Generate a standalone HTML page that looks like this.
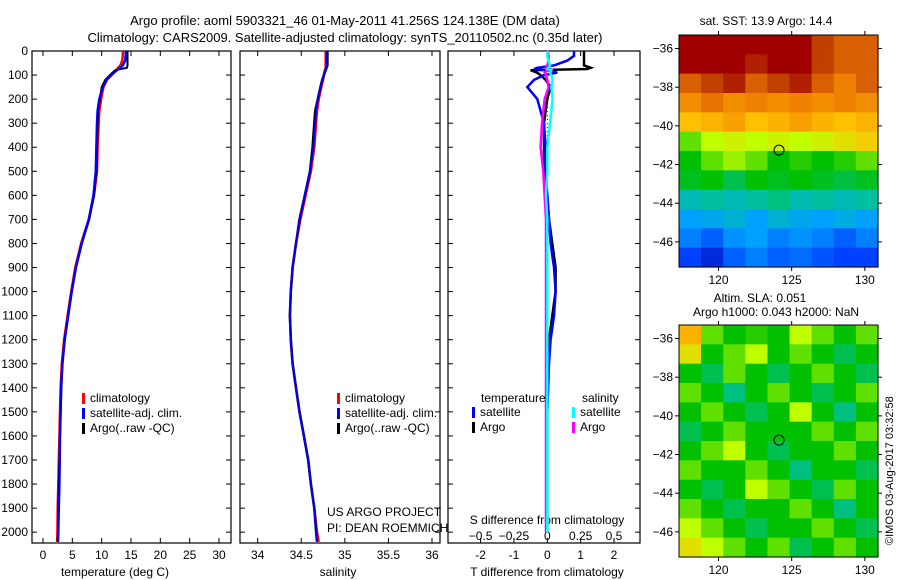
<!DOCTYPE html>
<html><head><meta charset="utf-8"><style>
body{margin:0;background:#fff;}
svg{display:block;font-family:"Liberation Sans",sans-serif;}
text{font-size:12px;fill:#000;}
</style></head><body>
<svg id="c" width="900" height="580" xmlns="http://www.w3.org/2000/svg">
<text x="345" y="25" text-anchor="middle" style="font-size:13px">Argo profile: aoml 5903321_46 01-May-2011 41.256S 124.138E (DM data)</text>
<text x="345" y="42" text-anchor="middle" style="font-size:13px">Climatology: CARS2009. Satellite-adjusted climatology: synTS_20110502.nc (0.35d later)</text>
<text x="115" y="576" text-anchor="middle">temperature (deg C)</text>
<text x="338" y="576" text-anchor="middle">salinity</text>
<text x="547" y="576" text-anchor="middle">T difference from climatology</text>
<text x="547" y="524" text-anchor="middle">S difference from climatology</text>
<text x="327" y="516">US ARGO PROJECT</text>
<text x="327" y="532">PI: DEAN ROEMMICH</text>
<text x="766" y="25" text-anchor="middle">sat. SST: 13.9 Argo: 14.4</text>
<text x="760" y="302" text-anchor="middle">Altim. SLA: 0.051</text>
<text x="776" y="316" text-anchor="middle">Argo h1000: 0.043 h2000: NaN</text>
<text transform="translate(893,545) rotate(-90)" style="font-size:11px">©IMOS 03-Aug-2017 03:32:58</text>
</svg>
<script>
// ---- data ----
const depths = [0,20,40,60,70,80,100,120,150,200,250,300,400,500,600,700,800,900,1000,1100,1200,1300,1400,1500,1600,1700,1800,1900,2000,2040];
const tempArgo = [14.4,14.4,14.4,14.4,14.3,12.3,11.4,10.6,10.0,9.7,9.4,9.3,9.2,9.1,8.7,7.9,6.6,5.6,4.9,4.3,3.7,3.3,3.1,3.0,2.9,2.8,2.7,2.6,2.55,2.5];
const tempClim = [13.6,13.6,13.5,13.2,12.8,12.5,11.7,10.9,10.3,9.9,9.6,9.5,9.3,9.2,8.7,7.8,6.5,5.5,4.8,4.2,3.6,3.2,3.0,2.9,2.8,2.7,2.6,2.5,2.45,2.4];
const tempSat = [14.1,14.1,14.0,13.6,13.1,12.6,11.6,10.8,10.2,9.6,9.3,9.2,9.1,9.0,8.6,7.8,6.6,5.6,4.9,4.3,3.7,3.3,3.1,3.0,2.9,2.85,2.8,2.7,2.6,2.55];
const salArgo = [34.80,34.80,34.80,34.80,34.79,34.78,34.76,34.74,34.72,34.69,34.66,34.65,34.63,34.60,34.54,34.48,34.44,34.40,34.38,34.37,34.38,34.40,34.44,34.48,34.53,34.58,34.61,34.65,34.67,34.68];
const salClim = [34.78,34.78,34.78,34.78,34.78,34.77,34.76,34.75,34.73,34.70,34.68,34.67,34.65,34.61,34.55,34.49,34.44,34.40,34.38,34.37,34.38,34.40,34.44,34.48,34.53,34.58,34.61,34.65,34.68,34.70];
const salSat = [34.79,34.79,34.79,34.79,34.78,34.78,34.76,34.74,34.72,34.69,34.67,34.66,34.64,34.60,34.54,34.48,34.44,34.40,34.38,34.37,34.38,34.40,34.44,34.48,34.53,34.58,34.61,34.65,34.67,34.68];
const diffDepths = [0,20,40,60,70,75,80,90,100,120,150,200,250,300,400,500,600,700,800,900,1000,1100,1200,1300,1500,1800,2000];
const dTArgo = [1.1,1.1,1.1,1.1,1.3,1.2,-0.5,-0.3,-0.2,-0.05,0.1,0.0,-0.05,-0.1,-0.1,-0.1,0.0,0.05,0.15,0.25,0.25,0.15,0.05,0.0,0.0,0.0,0.0];
const dTSat = [0.8,0.8,0.6,0.2,-0.3,-0.4,0.0,0.3,-0.1,-0.4,-0.6,-0.3,-0.2,-0.1,-0.05,-0.05,0.0,0.05,0.1,0.2,0.25,0.2,0.1,0.05,0.0,0.0,0.0];
const dSArgo = [0.0,0.01,0.01,0.0,-0.01,0.02,0.0,-0.02,-0.01,0.0,0.01,-0.02,-0.03,-0.04,-0.05,-0.03,-0.02,-0.01,-0.01,-0.01,-0.01,-0.01,-0.01,-0.01,-0.01,-0.01,-0.01];
const dSSat = [0.0,0.0,0.01,0.02,0.01,0.0,0.03,0.02,0.03,0.04,0.03,0.04,0.03,0.02,0.0,0.0,-0.01,0.0,0.0,0.0,0.0,0.0,0.0,0.0,0.0,0.0,0.0];
const depthTicks = [0,100,200,300,400,500,600,700,800,900,1000,1100,1200,1300,1400,1500,1600,1700,1800,1900,2000];
const tempTicks = [0,5,10,15,20,25,30];
const salTicks = [34,34.5,35,35.5,36];
const tdTicks = [-2,-1,0,1,2];
const sdTicks = [-0.5,-0.25,0,0.25,0.5];
const lonTicks = [120,125,130];
const latTicks = [-36,-38,-40,-42,-44,-46];
const sstGrid = [
[1,1,1,1,1,1,0.9,0.85,0.85],
[1,1,1,0.95,1,1,0.9,0.85,0.85],
[0.85,0.9,0.95,0.85,0.9,0.95,0.85,0.8,0.85],
[0.78,0.82,0.78,0.8,0.78,0.8,0.78,0.8,0.78],
[0.7,0.72,0.75,0.7,0.72,0.75,0.72,0.7,0.72],
[0.55,0.6,0.62,0.6,0.62,0.6,0.62,0.65,0.68],
[0.5,0.55,0.58,0.55,0.5,0.52,0.5,0.52,0.55],
[0.48,0.5,0.45,0.5,0.48,0.5,0.48,0.46,0.48],
[0.38,0.4,0.38,0.4,0.42,0.38,0.4,0.38,0.4],
[0.3,0.32,0.35,0.3,0.35,0.32,0.3,0.33,0.3],
[0.25,0.2,0.28,0.3,0.25,0.28,0.25,0.2,0.25],
[0.15,0.1,0.2,0.25,0.2,0.22,0.18,0.15,0.15]];
const slaGrid = [
[0.72,0.55,0.5,0.52,0.5,0.6,0.55,0.5,0.55],
[0.65,0.5,0.55,0.6,0.5,0.55,0.5,0.45,0.5],
[0.5,0.45,0.55,0.5,0.45,0.5,0.55,0.5,0.45],
[0.55,0.5,0.42,0.5,0.55,0.5,0.45,0.5,0.55],
[0.5,0.55,0.5,0.45,0.5,0.6,0.5,0.42,0.5],
[0.45,0.5,0.55,0.5,0.5,0.5,0.55,0.5,0.55],
[0.5,0.55,0.6,0.5,0.45,0.5,0.5,0.55,0.5],
[0.55,0.5,0.5,0.55,0.5,0.42,0.5,0.5,0.45],
[0.5,0.45,0.5,0.6,0.55,0.5,0.45,0.55,0.5],
[0.55,0.5,0.45,0.5,0.5,0.55,0.5,0.42,0.5],
[0.6,0.55,0.5,0.45,0.5,0.5,0.55,0.5,0.45],
[0.65,0.6,0.55,0.5,0.55,0.45,0.5,0.55,0.5]];
const argoLon = 124.138, argoLat = -41.256;

// ---- helpers ----
const svg = document.getElementById('c');
const NS = 'http://www.w3.org/2000/svg';
function mk(tag, attrs, parent){const e=document.createElementNS(NS,tag);for(const k in attrs)e.setAttribute(k,attrs[k]);(parent||svg).appendChild(e);return e;}
const yTop=51, yBot=543, dMax=2045;
const yD = d => yTop + d/dMax*(yBot-yTop);
function lin(d0,d1,r0,r1){return v=>r0+(v-d0)/(d1-d0)*(r1-r0);}

function panel(name,x0,x1,xs,ticks,fmt,leftLabels){
  const r=mk('rect',{x:x0,y:yTop,width:x1-x0,height:yBot-yTop,fill:'none',stroke:'#000','stroke-width':1.2});
  
  
  ticks.forEach(t=>{const x=xs(t);
    mk('line',{x1:x,x2:x,y1:yBot,y2:yBot-5,stroke:'#000'});
    mk('line',{x1:x,x2:x,y1:yTop,y2:yTop+5,stroke:'#000'});
    const tx=mk('text',{x:x,y:yBot+16,'text-anchor':'middle'});tx.textContent=fmt(t);
    
    
  });
  depthTicks.forEach(d=>{const y=yD(d);
    mk('line',{x1:x0,x2:x0+5,y1:y,y2:y,stroke:'#000'});
    mk('line',{x1:x1,x2:x1-5,y1:y,y2:y,stroke:'#000'});
    if(leftLabels){const tx=mk('text',{x:x0-4,y:y+4,'text-anchor':'end'});tx.textContent=d;
      
      }
  });
}
function line(name,xs,vals,dep,color,w){
  const pts=vals.map((v,i)=>xs(v).toFixed(1)+','+yD(dep[i]).toFixed(1)).join(' ');
  const p=mk('polyline',{points:pts,fill:'none',stroke:color,'stroke-width':w||2.5,'stroke-linejoin':'miter'});
  
  
}
function legend(name,x,y,items){
  items.forEach((it,i)=>{
    mk('rect',{x:x,y:y+i*15-9,width:3,height:11,fill:it[1]});
    const t=mk('text',{x:x+8,y:y+i*15});t.textContent=it[0];
    
    
  });
}

// Temperature panel
const xT=lin(0,30,43,219);
panel('temperature-panel',32,231,xT,tempTicks,String,true);
line('climatology-temp-line',xT,tempClim,depths,'#f00');
line('satellite-temp-line',xT,tempSat,depths,'#00f');
line('argo-temp-line',xT,tempArgo,depths,'#000',2);
line('satellite-temp-line-top',xT,tempSat,depths,'#00f',2);
legend('temp-legend',82,402,[['climatology','#f00'],['satellite-adj. clim.','#00f'],['Argo(..raw -QC)','#000']]);

// Salinity panel
const xS=lin(34,36,257.7,432);
panel('salinity-panel',240,440,xS,salTicks,String,false);
line('climatology-sal-line',xS,salClim,depths,'#f00');
line('argo-sal-line',xS,salArgo,depths,'#000');
line('satellite-sal-line',xS,salSat,depths,'#00f',2);
legend('sal-legend',337,402,[['climatology','#f00'],['satellite-adj. clim.','#00f'],['Argo(..raw -QC)','#000']]);

// Difference panel
const xDT=lin(0,2,547.3,614), xDS=lin(0,0.5,547.3,614);
panel('difference-panel',448,640,xDT,tdTicks,String,false);
sdTicks.forEach(t=>{const tx=mk('text',{x:xDS(t),y:540,'text-anchor':'middle'});tx.textContent=(t===0?'0':String(t).replace('-','\u2212'));
  
  });
mk('line',{x1:547.3,x2:547.3,y1:yD(200),y2:yD(1900),stroke:'#000','stroke-dasharray':'1,3'});
line('argo-t-diff-line',xDT,dTArgo,diffDepths,'#000');
line('satellite-t-diff-line',xDT,dTSat,diffDepths,'#00f');
line('argo-s-diff-line',xDS,dSArgo,diffDepths,'#f0f');
line('satellite-s-diff-line',xDS,dSSat,diffDepths,'#0ff');
const lt=mk('text',{x:481,y:402});lt.textContent='temperature';


const ls=mk('text',{x:582,y:402});ls.textContent='salinity';


legend('t-diff-legend',472,416,[['satellite','#00f'],['Argo','#000']]);
legend('s-diff-legend',572,416,[['satellite','#0ff'],['Argo','#f0f']]);

// Maps
const stops=[[0,[0,0,143]],[0.15,[0,64,255]],[0.3,[0,160,255]],[0.4,[0,192,160]],[0.5,[0,192,0]],[0.6,[192,255,0]],[0.7,[255,192,0]],[0.8,[240,128,0]],[0.9,[192,64,0]],[1,[160,0,0]]];
function cmap(v){for(let i=1;i<stops.length;i++){if(v<=stops[i][0]){const a=stops[i-1],b=stops[i],f=(v-a[0])/(b[0]-a[0]);return 'rgb('+a[1].map((c,k)=>Math.round(c+f*(b[1][k]-c))).join(',')+')';}}return 'rgb(160,0,0)';}
function map(name,y0,y1,grid){
  const x0=679,x1=878,lon0=117.3,lon1=130.9,lat0=-35.3,lat1=-47.3;
  const xl=lin(lon0,lon1,x0,x1), yl=lin(lat0,lat1,y0,y1);
  const rows=grid.length, cols=grid[0].length;
  grid.forEach((row,r)=>row.forEach((v,c)=>{
    const la=lat0+(lat1-lat0)*r/rows, lb=lat0+(lat1-lat0)*(r+1)/rows;
    const oa=lon0+(lon1-lon0)*c/cols, ob=lon0+(lon1-lon0)*(c+1)/cols;
    const cell=mk('rect',{x:xl(oa),y:yl(la),width:xl(ob)-xl(oa)+0.6,height:yl(lb)-yl(la)+0.6,fill:cmap(v)});
    
    
  }));
  const f=mk('rect',{x:x0,y:y0,width:x1-x0,height:y1-y0,fill:'none',stroke:'#000'});
  
  
  lonTicks.forEach(t=>{const x=xl(t);mk('line',{x1:x,x2:x,y1:y0,y2:y0-4,stroke:'#000'});mk('line',{x1:x,x2:x,y1:y1,y2:y1+4,stroke:'#000'});
    const tx=mk('text',{x:x,y:y1+17,'text-anchor':'middle'});tx.textContent=t;
    
    });
  latTicks.forEach(t=>{const y=yl(t);mk('line',{x1:x0,x2:x0-4,y1:y,y2:y,stroke:'#000'});mk('line',{x1:x1,x2:x1+4,y1:y,y2:y,stroke:'#000'});
    const tx=mk('text',{x:x0-6,y:y+4,'text-anchor':'end'});tx.textContent=String(t).replace('-','\u2212');
    
    });
  const m=mk('circle',{cx:xl(argoLon),cy:yl(argoLat),r:5,fill:'none',stroke:'#000'});
  
  
}
map('sst-map',35,267,sstGrid);
map('sla-map',325,557,slaGrid);
</script>
</body></html>
